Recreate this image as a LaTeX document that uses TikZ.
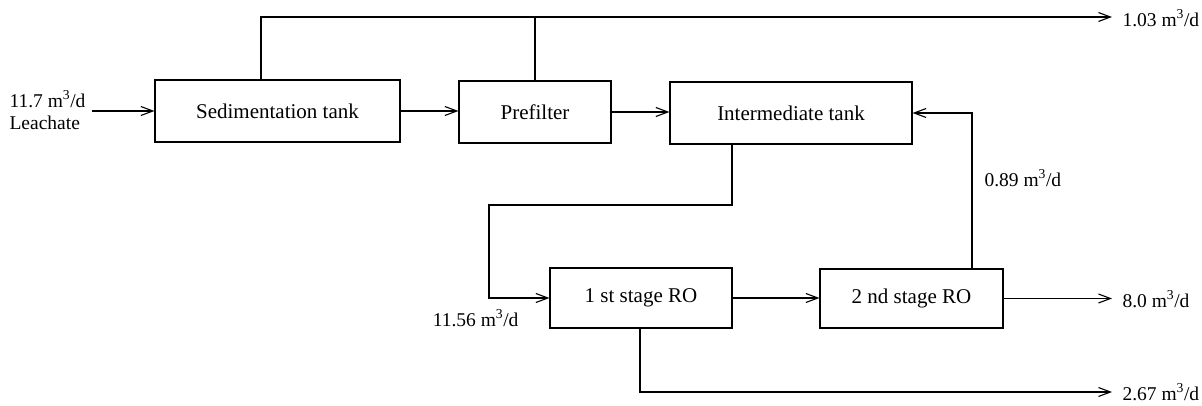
\documentclass[tikz,border=0pt]{standalone}
\usepackage{fontspec}
\setmainfont{Liberation Serif}
\usetikzlibrary{arrows.meta}
\begin{document}
\begin{tikzpicture}[x=1pt,y=-1pt,
  line width=1.1pt,
  box/.style={draw, rectangle, inner sep=0pt, font=\fontsize{21}{24}\selectfont},
  lbl/.style={inner sep=0pt, font=\fontsize{19.5}{22}\selectfont},
  flow/.style={-{Straight Barb[length=12pt,width=9pt,line width=1.1pt]}}]
\useasboundingbox (0,0) rectangle (1202,406);

\node[box, minimum width=245pt, minimum height=62pt] (sed) at (277.5,111) {Sedimentation tank};
\node[box, minimum width=152pt, minimum height=62pt] (pre) at (535,112) {Prefilter};
\node[box, minimum width=242pt, minimum height=62pt] (inter) at (791,113) {Intermediate tank};
\node[box, minimum width=182pt, minimum height=60pt] (ro1) at (641,298) {1 st stage RO};
\node[box, minimum width=183pt, minimum height=59pt] (ro2) at (911.5,298.5) {2 nd stage RO};

\node[lbl, anchor=west, align=left] (in) at (9,110) {11.7 m\textsuperscript{3}/d\\Leachate};
\coordinate (inS) at (92,0);
\draw[flow] (inS |- sed.west) -- (sed.west);

% top bypass line
\coordinate (topS) at (261,17);
\coordinate (topP) at (535,17);
\coordinate (topE) at (1112,17);
\node[lbl, anchor=west] (o1) at (1122,18) {1.03 m\textsuperscript{3}/d};
\draw[flow] (topS |- sed.north) -- (topS) -- (topE);
\draw (pre.north) -- (topP);

\draw[flow] (sed.east) -- (sed.east -| pre.west);
\draw[flow] (pre.east) -- (pre.east -| inter.west);

% intermediate -> RO1
\coordinate (a1) at (732,205);
\coordinate (a2) at (489,205);
\draw[flow] (a1 |- inter.south) -- (a1) -- (a2) -- (a2 |- ro1.west) -- (ro1.west);
\node[lbl, anchor=east] (l1156) at (519,318) {11.56 m\textsuperscript{3}/d};

\draw[flow] (ro1.east) -- (ro1.east -| ro2.west);

% RO2 -> intermediate recycle
\coordinate (b1) at (972,0);
\draw[flow] (b1 |- ro2.north) -- (b1 |- inter.east) -- (inter.east);
\node[lbl, anchor=west] (l089) at (984,178) {0.89 m\textsuperscript{3}/d};

% RO2 product
\coordinate (c1) at (1112,0);
\draw[flow] (ro2.east) -- (c1 |- ro2.east);
\node[lbl, anchor=west] (o2) at (1122,299) {8.0 m\textsuperscript{3}/d};

% RO1 concentrate
\coordinate (d1) at (640,392);
\coordinate (d2) at (1112,392);
\draw[flow] (d1 |- ro1.south) -- (d1) -- (d2);
\node[lbl, anchor=west] (o3) at (1122,392) {2.67 m\textsuperscript{3}/d};
\end{tikzpicture}
\end{document}
